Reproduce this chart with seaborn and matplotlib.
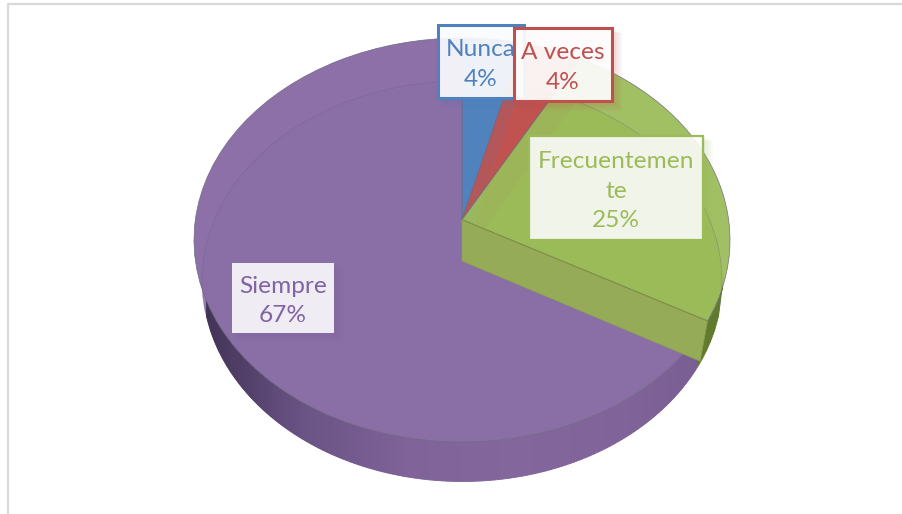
import numpy as np
import matplotlib
matplotlib.use('Agg')
import matplotlib.pyplot as plt
from matplotlib.patches import Rectangle
from matplotlib.transforms import Transform
import seaborn as sns

categories = ['Nunca', 'A veces', 'Frecuentemen\nte', 'Siempre']
values = [4, 4, 25, 67]
colors = ['#4f81bd', '#c0504d', '#9bbb59', '#8a6ea6']
top_alpha = [0.9, 0.88, 0.94, 0.985]

sns.set_theme(style='white')
plt.rcParams['font.family'] = ['Lato', 'DejaVu Sans']


# maps the unit disc onto the tilted ellipse, the pie centre moves up a bit (perspective)
class DiscWarp(Transform):
    input_dims = 2
    output_dims = 2
    is_separable = False

    def __init__(self, cx, cy, rx, ry, shift):
        super().__init__()
        self.cx, self.cy, self.rx, self.ry, self.shift = cx, cy, rx, ry, shift

    def transform_non_affine(self, xy):
        xy = np.asarray(xy, dtype=float)
        c = self.shift
        d = 1 + c * xy[:, 1]
        u = xy[:, 0] * np.sqrt(1 - c ** 2) / d
        v = (xy[:, 1] + c) / d
        return np.column_stack([self.cx + self.rx * u, self.cy - self.ry * v])


top = DiscWarp(462, 240, 268, 202, 0.1)
bottom = DiscWarp(462, 281, 260, 200, 0.1)

fig = plt.figure(figsize=(9.03, 5.14), dpi=100)
ax = fig.add_axes([0, 0, 1, 1])

# lower disc, seen through the top one
low, _ = ax.pie(values, colors=colors, startangle=90, counterclock=False, radius=1,
                wedgeprops=dict(alpha=0.9, linewidth=0, zorder=1))
for w in low:
    w.set_transform(bottom + ax.transData)

# side wall in vertical strips
xs = np.arange(194, 731, 4.0)
top_y = 240 + 202 * np.sqrt(np.clip(1 - ((xs - 462) / 268) ** 2, 0, 1))
bot_y = 281 + 200 * np.sqrt(np.clip(1 - ((xs - 462) / 260) ** 2, 0, 1))
purple_side = sns.blend_palette(['#3f3052', '#6a5385', '#7f6399', '#82669c', '#7f6399', '#775c90'], n_colors=len(xs))
green_side = sns.blend_palette(['#7d9a3f', '#5f7a2c'], n_colors=len(xs))
for i in range(len(xs) - 1):
    if abs(xs[i] + 2 - 462) > 260 or bot_y[i] <= top_y[i]:
        continue
    c = green_side[i] if xs[i] >= 697 else purple_side[i]
    ax.fill_between(xs[i:i + 2], top_y[i:i + 2], bot_y[i:i + 2], color=c, linewidth=0.6, zorder=2)

# upper disc
up, _ = ax.pie(values, colors=colors, startangle=90, counterclock=False, radius=1,
               wedgeprops=dict(linewidth=0.5, edgecolor='#6f6a80', zorder=3))
for w, a in zip(up, top_alpha):
    w.set_alpha(a)
    w.set_transform(top + ax.transData)

# faint back rim of the lower disc
ang = np.deg2rad(np.linspace(-15, 195, 200))
rim = bottom.transform_non_affine(np.column_stack([np.cos(ang), np.sin(ang)]))
ax.plot(rim[:, 0], rim[:, 1], color='#6f5a8a', lw=0.5, alpha=0.4, zorder=5)

# inner wall of the green slice
end = np.deg2rad(90 - 3.6 * sum(values[:3]))
p = np.array([[0, 0], [np.cos(end), np.sin(end)]])
t = top.transform_non_affine(p)
b = bottom.transform_non_affine(p)
ax.fill([t[0, 0], t[1, 0], b[1, 0], b[0, 0]], [t[0, 1], t[1, 1], b[1, 1], b[0, 1]],
        color='#96ab58', linewidth=0.5, edgecolor='#8a9e50', zorder=6)
ax.plot(t[:, 0], t[:, 1], color='#7f9148', lw=0.7, zorder=7)

# data labels
boxes = [(438, 25, 86, 73), (514, 28, 98, 73), (529, 136, 174, 104), (232, 263, 102, 70)]
edges = [(2.2, 0.9), (2.2, 0.92), (1.6, 0.87), (0, 0.88)]
text_colors = ['#4f81bd', '#c0504d', '#9bbb59', '#8064a2']
for i, cat in enumerate(categories):
    x, y, w, h = boxes[i]
    lw, alpha = edges[i]
    for k in range(1, 6):
        ax.add_patch(Rectangle((x + k, y + k), w + k, h + k, color=text_colors[i], alpha=0.05,
                               linewidth=0, zorder=10 + i))
    ax.add_patch(Rectangle((x, y), w, h, facecolor=(1, 1, 1, alpha), edgecolor=text_colors[i],
                           linewidth=lw, zorder=10 + i))
    ax.text(x + w / 2, y + h / 2 + 3, f'{cat}\n{values[i]}%', ha='center', va='center', fontsize=17.6,
            color=text_colors[i], linespacing=1.5, zorder=10 + i)

# frame of the pasted picture
ax.plot([8, 8, 903], [514, 3.5, 3.5], color='#d9d9d9', lw=1.6, zorder=0)

ax.set_aspect('auto')
ax.set_xlim(0, 903)
ax.set_ylim(514, 0)
ax.axis('off')

plt.savefig('out.png', dpi=100)
